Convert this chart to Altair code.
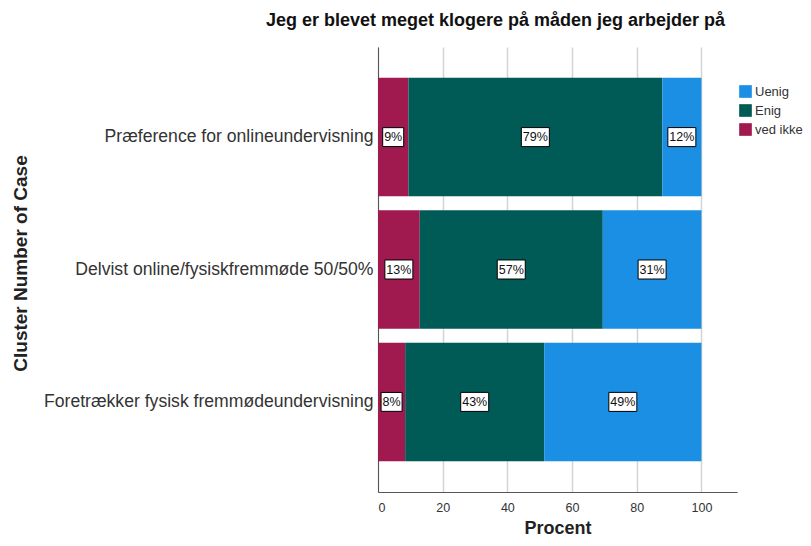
import altair as alt
import pandas as pd

categories = ["Præference for onlineundervisning",
              "Delvist online/fysiskfremmøde 50/50%",
              "Foretrækker fysisk fremmødeundervisning"]
series = ["ved ikke", "Enig", "Uenig"]
ved_ikke = [9.4, 12.9, 8.4]
enig = [78.5, 56.6, 43.0]
uenig = [12.1, 30.5, 48.6]
lbl_ved_ikke = ["9%", "13%", "8%"]
lbl_enig = ["79%", "57%", "43%"]
lbl_uenig = ["12%", "31%", "49%"]

legend_order = ["Uenig", "Enig", "ved ikke"]
colors = ["#1a8fe3", "#005a56", "#a0194f"]

rows = []
for i, c in enumerate(categories):
    for o, (s, vals, lbls) in enumerate(zip(series, [ved_ikke, enig, uenig],
                                           [lbl_ved_ikke, lbl_enig, lbl_uenig])):
        rows.append({"cat": c, "serie": s, "value": vals[i], "label": lbls[i], "order": o})
df = pd.DataFrame(rows)

font = "Liberation Sans"
xscale = alt.Scale(domain=[0, 111], nice=False, zero=True)
yscale = alt.Scale(domain=categories, paddingInner=0.105, paddingOuter=0.233)

base = alt.Chart(df).transform_stack(
    stack="value", groupby=["cat"], as_=["x0", "x1"], sort=[{"field": "order", "order": "ascending"}]
).transform_calculate(mid="(datum.x0 + datum.x1) / 2", nch="length(datum.label)")

bars = base.mark_bar().encode(
    x=alt.X("x0:Q", scale=xscale, title="Procent",
            axis=alt.Axis(values=[0, 20, 40, 60, 80, 100], grid=True, gridColor="#d4d4d4",
                          gridWidth=1.5, domainColor="#555555", domainWidth=1, ticks=False,
                          labelFont=font, labelFontSize=12.5, labelColor="#333333", labelPadding=9,
                          titleFont=font, titleFontSize=18, titleFontWeight="bold",
                          titleColor="#222222", titleY=41, titleBaseline="alphabetic")),
    x2="x1:Q",
    y=alt.Y("cat:N", scale=yscale, sort=categories, title="Cluster Number of Case",
            axis=alt.Axis(ticks=False, domainColor="#555555", domainWidth=1, labelFont=font,
                          labelFontSize=17.6, labelColor="#333333", labelPadding=5, labelLimit=400,
                          titleFont=font, titleFontSize=19, titleFontWeight="bold",
                          titleColor="#222222", titleX=-352, titleY=216, titleAngle=-90,
                          titleAlign="center", titleBaseline="alphabetic")),
    color=alt.Color("serie:N", scale=alt.Scale(domain=legend_order, range=colors),
                    legend=alt.Legend(title=None, orient="none", legendX=361, legendY=38,
                                      symbolType="square", symbolSize=160, symbolStrokeWidth=0,
                                      labelFont=font, labelFontSize=13, labelColor="#333333",
                                      labelOffset=3, rowPadding=5)),
    order=alt.Order("order:Q"),
)

box3 = base.transform_filter("datum.nch >= 3").mark_point(
    shape="M-1,-0.68L1,-0.68L1,0.68L-1,0.68Z", size=784, filled=True, fill="white",
    stroke="black", strokeWidth=1, opacity=1
).encode(x=alt.X("mid:Q", scale=xscale), y=alt.Y("cat:N", scale=yscale, sort=categories))

box2 = base.transform_filter("datum.nch < 3").mark_point(
    shape="M-1,-0.9L1,-0.9L1,0.9L-1,0.9Z", size=441, filled=True, fill="white",
    stroke="black", strokeWidth=1, opacity=1
).encode(x=alt.X("mid:Q", scale=xscale), y=alt.Y("cat:N", scale=yscale, sort=categories))

texts = base.mark_text(font=font, fontSize=12.5, color="#111111", baseline="middle", align="center").encode(
    x=alt.X("mid:Q", scale=xscale), y=alt.Y("cat:N", scale=yscale, sort=categories), text="label:N"
)

chart = alt.layer(bars, box3, box2, texts).properties(
    width=359, height=445,
    title=alt.TitleParams("Jeg er blevet meget klogere på måden jeg arbejder på", font=font,
                          fontSize=18, fontWeight="bold", color="#111111", anchor="middle",
                          dx=-62, offset=17),
    autosize=alt.AutoSizeParams(type="none"),
    padding={"left": 370, "top": 39, "right": 66, "bottom": 46},
).configure_view(stroke=None)

chart.save("out.html", embed_options={"renderer": "svg", "actions": False})
